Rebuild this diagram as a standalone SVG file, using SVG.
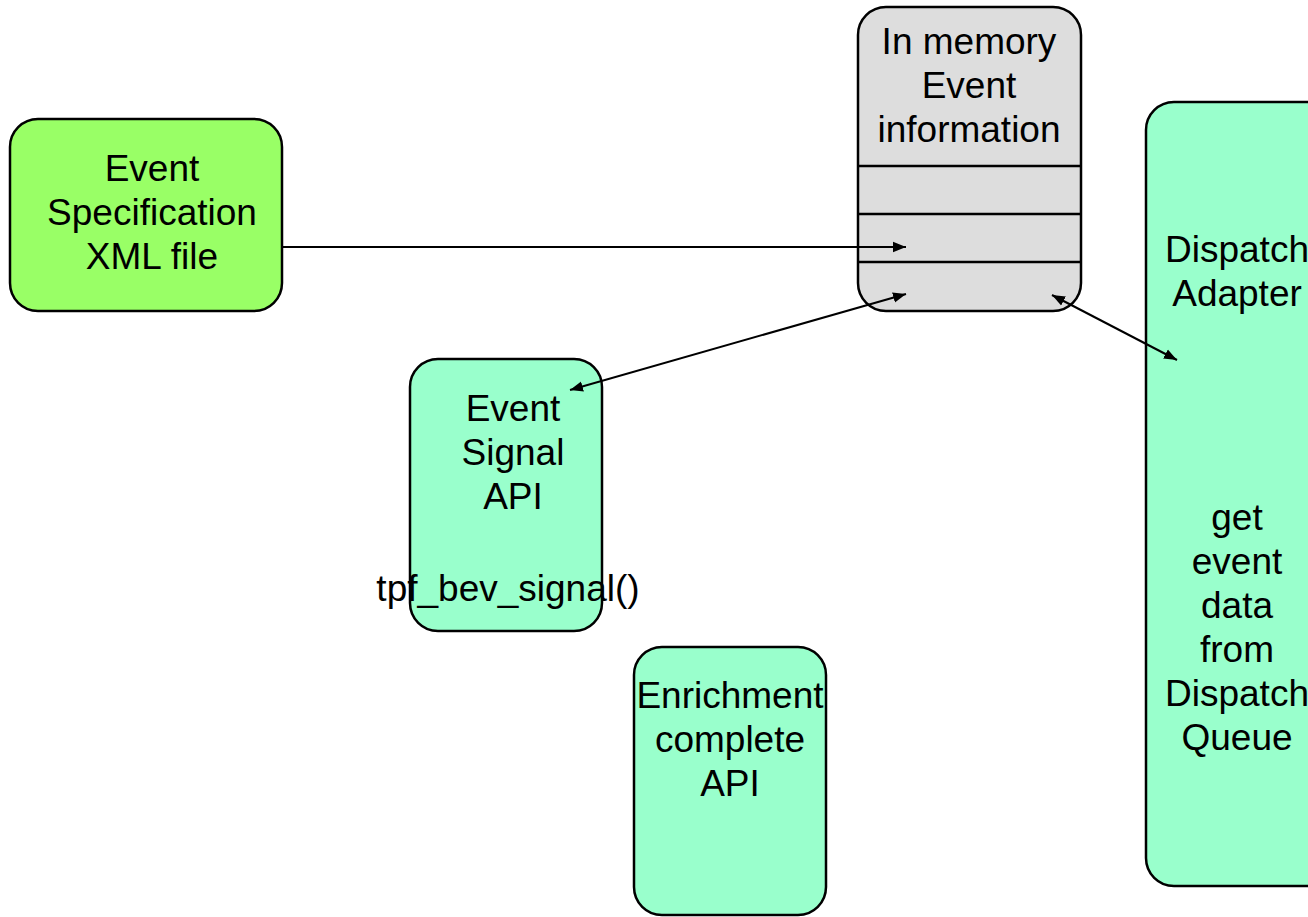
<svg xmlns="http://www.w3.org/2000/svg" width="1308" height="917" viewBox="0 0 1308 917">
  <style>
    .box { stroke: #000; stroke-width: 2.5; }
    .green { fill: #99FF66; }
    .aqua { fill: #99FFCC; }
    .grey { fill: #DDDDDD; }
    .lbl { font-family: "Liberation Sans", Arial, sans-serif; font-size: 37px; fill: #000; text-anchor: middle; }
    .conn { stroke: #000; stroke-width: 2; fill: none; }
  </style>
  <defs>
    <marker id="arrow" viewBox="0 0 10 10" refX="10" refY="5" markerWidth="13" markerHeight="13" markerUnits="userSpaceOnUse" orient="auto-start-reverse">
      <path d="M0,1 L10,5 L0,9 Z" fill="#000"/>
    </marker>
  </defs>
  <rect width="1308" height="917" fill="#fff"/>

  <g id="event-spec">
    <rect class="box green" x="10" y="119" width="272" height="192" rx="28"/>
    <text class="lbl" x="152" y="181">Event</text>
    <text class="lbl" x="152" y="225">Specification</text>
    <text class="lbl" x="152" y="269">XML file</text>
  </g>

  <g id="in-memory">
    <rect class="box grey" x="858" y="7" width="223" height="304" rx="28"/>
    <line class="box" x1="858" y1="166" x2="1081" y2="166"/>
    <line class="box" x1="858" y1="214" x2="1081" y2="214"/>
    <line class="box" x1="858" y1="262" x2="1081" y2="262"/>
    <text class="lbl" x="969" y="54">In memory</text>
    <text class="lbl" x="969" y="98">Event</text>
    <text class="lbl" x="969" y="142">information</text>
  </g>

  <g id="dispatch-adapter">
    <rect class="box aqua" x="1146" y="102" width="190" height="784" rx="28"/>
    <text class="lbl" x="1237" y="262">Dispatch</text>
    <text class="lbl" x="1237" y="306">Adapter</text>
    <text class="lbl" x="1237" y="530">get</text>
    <text class="lbl" x="1237" y="574">event</text>
    <text class="lbl" x="1237" y="618">data</text>
    <text class="lbl" x="1237" y="662">from</text>
    <text class="lbl" x="1237" y="706">Dispatch</text>
    <text class="lbl" x="1237" y="750">Queue</text>
  </g>

  <g id="event-signal">
    <rect class="box aqua" x="410" y="359" width="192" height="272" rx="28"/>
    <text class="lbl" x="513" y="421">Event</text>
    <text class="lbl" x="513" y="465">Signal</text>
    <text class="lbl" x="513" y="509">API</text>
    <text class="lbl" x="508" y="601">tpf_bev_signal()</text>
  </g>

  <g id="enrichment">
    <rect class="box aqua" x="634" y="647" width="192" height="268" rx="28"/>
    <text class="lbl" x="730" y="708">Enrichment</text>
    <text class="lbl" x="730" y="752">complete</text>
    <text class="lbl" x="730" y="796">API</text>
  </g>

  <g id="connectors">
    <line class="conn" x1="282" y1="247" x2="906" y2="247" marker-end="url(#arrow)"/>
    <line class="conn" x1="570" y1="390" x2="906" y2="294" marker-start="url(#arrow)" marker-end="url(#arrow)"/>
    <line class="conn" x1="1052" y1="295" x2="1177" y2="360" marker-start="url(#arrow)" marker-end="url(#arrow)"/>
  </g>
</svg>
